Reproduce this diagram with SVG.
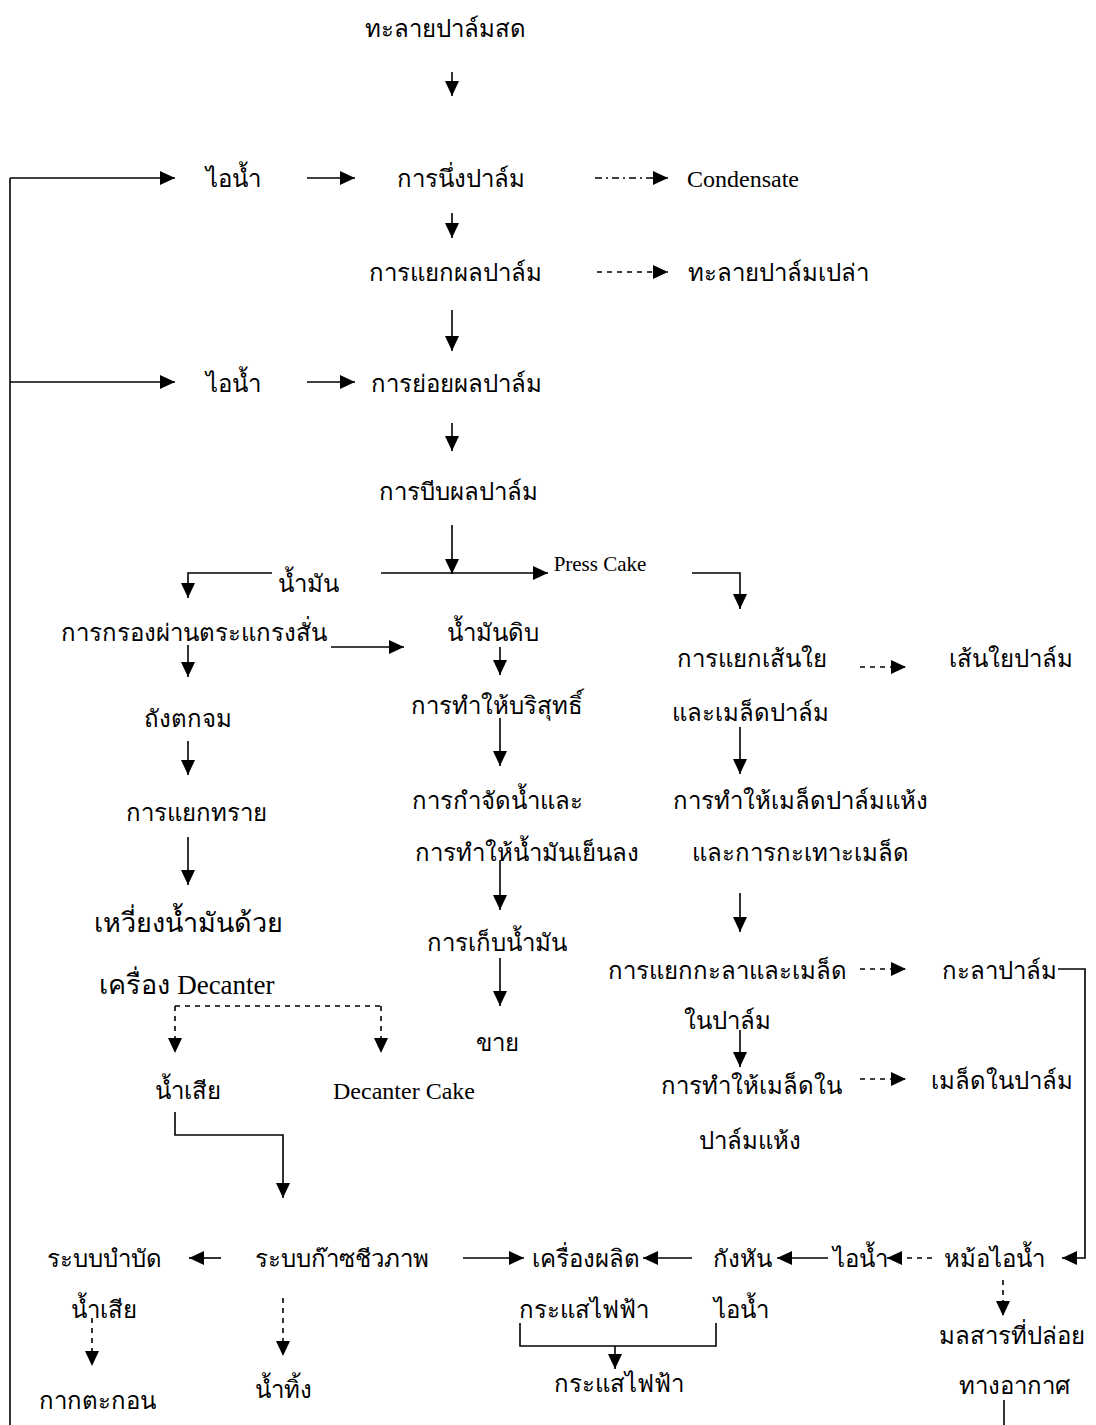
<svg xmlns="http://www.w3.org/2000/svg" width="1096" height="1425" viewBox="0 0 1096 1425">
<defs>
<marker id="ah" markerUnits="userSpaceOnUse" markerWidth="16" markerHeight="14" refX="15" refY="7" orient="auto"><path d="M0,0 L15,7 L0,14 Z" fill="#000"/></marker>
<style>
.t{font-family:"Liberation Serif","Noto Sans CJK SC",serif;font-size:24px;fill:#000;text-anchor:middle}
.l{text-anchor:start}
.big{font-size:27px}
.lat{font-size:24px}
.pc{font-size:21px}
.c{fill:none;stroke:#000;stroke-width:1.6}
.a{marker-end:url(#ah)}
.d{stroke-dasharray:5 5}
.dd{stroke-dasharray:7 4 2 4}
</style>
</defs>
<rect width="1096" height="1425" fill="#fff"/>
<g id="connectors">
<path class="c a" d="M452,72 V96"/>
<path class="c" d="M10,1425 V178"/>
<path class="c a" d="M10,178 H175"/>
<path class="c a" d="M307,178 H355"/>
<path class="c a dd" d="M595,178 H668"/>
<path class="c a" d="M452,213 V238"/>
<path class="c a d" d="M597,272 H668"/>
<path class="c a" d="M452,310 V351"/>
<path class="c a" d="M10,382 H175"/>
<path class="c a" d="M307,382 H355"/>
<path class="c a" d="M452,423 V451"/>
<path class="c a" d="M452,525 V574"/>
<path class="c a" d="M381,573 H548"/>
<path class="c a" d="M272,573 H188 V598"/>
<path class="c a" d="M692,573 H740 V609"/>
<path class="c a" d="M331,647 H404"/>
<path class="c a" d="M188,645 V677"/>
<path class="c a" d="M500,647 V675"/>
<path class="c a d" d="M860,667 H906"/>
<path class="c a" d="M188,741 V775"/>
<path class="c a" d="M500,718 V766"/>
<path class="c a" d="M740,727 V774"/>
<path class="c a" d="M188,837 V885"/>
<path class="c a" d="M500,860 V910"/>
<path class="c a" d="M740,893 V932"/>
<path class="c a d" d="M860,969 H906"/>
<path class="c a" d="M1058,969 H1085 V1258 H1062"/>
<path class="c a" d="M500,958 V1006"/>
<path class="c a" d="M740,1030 V1067"/>
<path class="c a d" d="M175,1006 V1053"/>
<path class="c d" d="M175,1006 H381"/>
<path class="c a d" d="M381,1006 V1053"/>
<path class="c a d" d="M860,1079 H906"/>
<path class="c a" d="M175,1112 V1135 H283 V1198"/>
<path class="c a" d="M221,1258 H189"/>
<path class="c a" d="M463,1258 H524"/>
<path class="c a" d="M692,1258 H643"/>
<path class="c a" d="M828,1258 H777"/>
<path class="c a d" d="M932,1258 H887"/>
<path class="c a d" d="M92,1318 V1366"/>
<path class="c a d" d="M283,1298 V1356"/>
<path class="c" d="M520,1323 V1346 H716 V1323"/>
<path class="c a" d="M615,1346 V1369"/>
<path class="c a d" d="M1003,1280 V1316"/>
<path class="c" d="M1004,1400 V1425"/>
</g>
<g id="n-fresh"><text class="t" x="445" y="37">ทะลายปาล์มสด</text></g>
<g id="n-steam1"><text class="t" x="233" y="187">ไอน้ำ</text></g>
<g id="n-steaming"><text class="t" x="461" y="187">การนึ่งปาล์ม</text></g>
<g id="n-condensate"><text class="t l lat" x="687" y="187">Condensate</text></g>
<g id="n-thresh"><text class="t" x="455" y="281">การแยกผลปาล์ม</text></g>
<g id="n-efb"><text class="t l" x="688" y="281">ทะลายปาล์มเปล่า</text></g>
<g id="n-steam2"><text class="t" x="233" y="392">ไอน้ำ</text></g>
<g id="n-digest"><text class="t" x="456" y="392">การย่อยผลปาล์ม</text></g>
<g id="n-press"><text class="t" x="458" y="500">การบีบผลปาล์ม</text></g>
<g id="n-oil"><text class="t" x="308" y="592">น้ำมัน</text></g>
<g id="n-presscake"><text class="t pc" x="600" y="571">Press Cake</text></g>
<g id="n-screen"><text class="t" x="194" y="641">การกรองผ่านตระแกรงสั่น</text></g>
<g id="n-crude"><text class="t" x="493" y="641">น้ำมันดิบ</text></g>
<g id="n-fiber-sep"><text class="t" x="752" y="667">การแยกเส้นใย</text><text class="t" x="750" y="721">และเมล็ดปาล์ม</text></g>
<g id="n-fiber"><text class="t" x="1011" y="667">เส้นใยปาล์ม</text></g>
<g id="n-settle"><text class="t" x="188" y="727">ถังตกจม</text></g>
<g id="n-purify"><text class="t" x="497" y="714">การทำให้บริสุทธิ์</text></g>
<g id="n-sand"><text class="t" x="196" y="821">การแยกทราย</text></g>
<g id="n-dry"><text class="t" x="497" y="809">การกำจัดน้ำและ</text><text class="t" x="527" y="861">การทำให้น้ำมันเย็นลง</text></g>
<g id="n-nutdry"><text class="t" x="800" y="809">การทำให้เมล็ดปาล์มแห้ง</text><text class="t" x="800" y="861">และการกะเทาะเมล็ด</text></g>
<g id="n-decanter"><text class="t big" x="188" y="932">เหวี่ยงน้ำมันด้วย</text><text class="t big" x="187" y="994">เครื่อง Decanter</text></g>
<g id="n-storage"><text class="t" x="497" y="951">การเก็บน้ำมัน</text></g>
<g id="n-crack"><text class="t" x="727" y="979">การแยกกะลาและเมล็ด</text><text class="t" x="727" y="1029">ในปาล์ม</text></g>
<g id="n-shell"><text class="t" x="999" y="979">กะลาปาล์ม</text></g>
<g id="n-sell"><text class="t" x="497" y="1051">ขาย</text></g>
<g id="n-kerneldry"><text class="t" x="751" y="1094">การทำให้เมล็ดใน</text><text class="t" x="750" y="1149">ปาล์มแห้ง</text></g>
<g id="n-kernel"><text class="t" x="1002" y="1089">เมล็ดในปาล์ม</text></g>
<g id="n-ww"><text class="t" x="188" y="1099">น้ำเสีย</text></g>
<g id="n-dcake"><text class="t lat" x="404" y="1099">Decanter Cake</text></g>
<g id="n-wwt"><text class="t" x="104" y="1267">ระบบบำบัด</text><text class="t" x="104" y="1318">น้ำเสีย</text></g>
<g id="n-biogas"><text class="t" x="342" y="1267">ระบบก๊าซชีวภาพ</text></g>
<g id="n-gen"><text class="t" x="586" y="1267">เครื่องผลิต</text><text class="t" x="584" y="1318">กระแสไฟฟ้า</text></g>
<g id="n-turbine"><text class="t" x="742" y="1267">กังหัน</text><text class="t" x="741" y="1318">ไอน้ำ</text></g>
<g id="n-steam3"><text class="t" x="860" y="1267">ไอน้ำ</text></g>
<g id="n-boiler"><text class="t" x="994" y="1267">หม้อไอน้ำ</text></g>
<g id="n-sludge"><text class="t" x="97" y="1409">กากตะกอน</text></g>
<g id="n-effluent"><text class="t" x="283" y="1398">น้ำทิ้ง</text></g>
<g id="n-power"><text class="t" x="619" y="1392">กระแสไฟฟ้า</text></g>
<g id="n-emission"><text class="t" x="1012" y="1344">มลสารที่ปล่อย</text><text class="t" x="1014" y="1394">ทางอากาศ</text></g>
</svg>
